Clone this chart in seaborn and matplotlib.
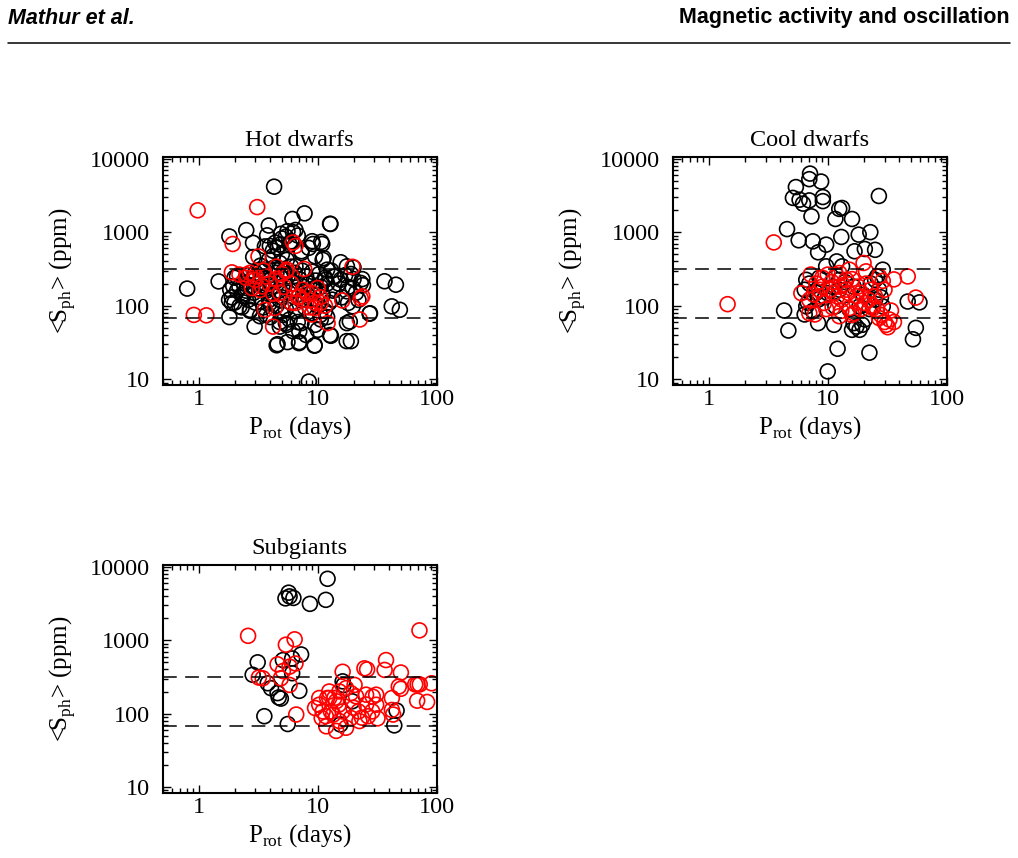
import numpy as np
import pandas as pd
import matplotlib
matplotlib.use("Agg")
import matplotlib.pyplot as plt
import matplotlib.ticker as mticker
import seaborn as sns

# ---- data: (P_rot [days], <S_ph> [ppm]) ----
# Hot dwarfs, black circles
hot_black_P = [0.80, 4.3, 7.75, 12.7, 1.81, 2.51, 3.88, 2.86, 6.13, 5.57, 8.98, 10.7, 8.42,
               36.4, 45.4, 41.9, 49, 27.3, 19, 12.7, 9.44, 6.96, 5.57, 4.52, 4.6, 8.42, 1.81,
               2.95, 1.47, 18, 18.6, 3.76, 2.87, 1.84, 1.8, 1.9, 2.2, 2.1, 2.37, 2.53, 2.7,
               3.27, 3.96, 4.8, 5.4, 4.8, 4.2, 4.8, 5.4, 3.96, 3.27, 4.35, 12.8, 9.1, 10.9,
               11.2, 15.6, 17.6, 12, 13.6, 15.6, 23.7, 23, 19.7, 17.6, 13.2, 19.7, 17.6, 27.5,
               17.5, 12.9, 9.4, 7.0, 10, 10.6, 9, 7.3, 7.7, 9.4, 11.6, 6.5, 7.3, 6.5,
               2.2, 2.3, 2.4, 2.5, 2.6, 2.6, 2.7, 2.8, 2.9, 3.0, 3.0, 3.1, 3.2, 3.3, 3.3, 3.4,
               3.5, 3.5, 3.6, 3.7, 3.8, 3.9, 3.9, 4.0, 4.1, 4.2, 4.2, 4.3, 4.4, 4.5, 4.5, 4.6,
               4.7, 4.8, 4.9, 5.0, 5.0, 5.1, 5.2, 5.3, 5.4, 5.5, 5.6, 5.7, 5.8, 6.0, 6.0, 6.2,
               6.4, 6.5, 6.6, 6.8, 7.0, 7.2, 7.4, 7.6, 7.8, 8.0, 8.2, 8.5, 8.8, 9.0, 9.3, 9.6,
               10.0, 10.3, 10.6, 11.0, 11.5, 12.0, 12.5, 13.0, 13.5, 14.0, 15.0, 16, 17, 18,
               20, 21, 22, 24, 20, 19, 1.9, 2.0, 2.0, 2.1, 1.95, 2.3, 2.7, 3.7, 4.0, 4.8, 5.5,
               6.2, 7.0, 8.0, 9.5, 10.5, 11.5, 12, 6, 5, 6.8, 4.4, 3.6, 5.8, 7.3, 9.5, 11, 4.9, 6.2]
hot_black_S = [171, 4150, 1800, 1300, 873, 1065, 1230, 716, 1510, 1030, 753, 738, 611,
               215, 193, 98, 88, 78, 33, 40, 29, 31, 32, 29, 30, 9.3, 70,
               52, 214, 109, 61, 905, 459, 165, 120, 109, 98, 250, 134, 174, 88,
               72, 109, 120, 58, 52, 470, 676, 870, 650, 309, 309, 1290, 690, 690,
               445, 390, 343, 309, 250, 225, 230, 204, 174, 157, 121, 98, 58, 79,
               33, 39, 28.6, 32, 47, 65, 79, 58, 120, 174, 225, 343, 522, 1070,
               180, 140, 200, 160, 120, 260, 190, 230, 150, 110, 280, 200, 170, 130, 350, 240,
               190, 95, 300, 160, 220, 120, 420, 260, 180, 140, 560, 330, 210, 100, 280, 620,
               160, 380, 240, 130, 500, 75, 300, 190, 90, 420, 250, 150, 65, 340, 110, 200,
               280, 85, 160, 60, 230, 120, 300, 180, 95, 250, 140, 200, 120, 290, 160, 220,
               100, 270, 180, 140, 240, 200, 110, 300, 160, 250, 200, 130, 260, 180,
               230, 150, 120, 190, 330, 270, 130, 110, 240, 160, 185, 95, 85, 75, 70, 60, 55,
               45, 45, 40, 55, 75, 85, 70, 750, 820, 900, 720, 640, 680, 550, 470, 420, 950, 1000]
# Hot dwarfs, red circles
hot_red_P = [0.98, 3.1, 1.93, 3.18, 1.9, 0.91, 1.16, 4.22, 3.6, 4.35, 6.2, 2.53, 2.97, 3.7,
             4.5, 5.4, 3.27, 4.2, 2.8, 3.4, 2.2, 6.5, 7.7, 19.6, 10, 9, 10.6, 9.4, 8.9,
             12.1, 16.1, 23, 23.7, 22.6, 7, 6.5, 7.5,
             3.0, 3.5, 3.9, 4.5, 5.0, 5.5, 6.0, 4.8, 6.8, 7.5, 8.2, 9.5, 10.5, 11.5, 8.5,
             6.0, 5.2, 2.5, 2.7]
hot_red_S = [1980, 2190, 690, 468, 284, 75, 74, 52, 88, 93, 725, 265, 224, 250,
             340, 294, 164, 148, 174, 183, 265, 650, 316, 338, 174, 148, 109, 93, 76,
             58, 118, 126, 134, 65, 134, 109, 165,
             250, 300, 200, 230, 270, 310, 200, 150, 130, 120, 150, 110, 130, 100, 95,
             110, 180, 240, 280]

# Cool dwarfs, black circles
cool_black_P = [7.1, 7.0, 8.8, 5.4, 5.1, 5.8, 6.2, 7.0, 9.1, 9.1, 26.9, 12.5, 13.2, 11.6,
                16, 7.3, 4.55, 5.7, 7.5, 9.7, 8.3, 13.0, 18.2, 22.8, 16.8, 20.5, 25, 11.9,
                6.6, 6.4, 6.4, 6.6, 8.3, 10, 12.5, 16.5, 17.4, 18.5, 16, 19.5, 20.5, 29,
                25, 27, 4.3, 4.67, 12.1, 22.4, 10.0, 47, 59, 55, 52, 11.3, 8.3,
                7.0, 8.5, 11.6, 15.2, 18.5, 22.4, 25, 29, 12.5, 16.5, 9.7, 13.2,
                8.0, 9.5, 11, 14, 20, 23, 26, 28, 6.8, 7.5]
cool_black_S = [6250, 5250, 4870, 4100, 2920, 2760, 2440, 2700, 3000, 2640, 3100, 2070, 2130, 1510,
                1510, 1640, 1100, 775, 750, 676, 532, 860, 925, 1000, 550, 590, 575, 400,
                225, 165, 76, 98, 121, 148, 225, 58, 52, 47, 47, 55, 65, 309,
                225, 165, 86, 46, 26, 23, 12.8, 114, 111, 50, 35, 55, 58,
                200, 240, 98, 90, 98, 90, 121, 98, 165, 182, 343, 343,
                150, 130, 180, 210, 140, 200, 250, 130, 110, 85]
# Cool dwarfs, red circles
cool_red_P = [1.44, 3.52, 47, 55, 36, 29, 34, 33, 32, 36, 27, 24, 20, 21, 7.2, 6.0, 7.0,
              7.8, 12.5, 16.5, 9.3, 11.3, 12.5, 14.3, 15.2, 10, 9, 12, 13.1, 17.4, 20.5,
              25, 23, 10.5, 8.6, 12.5, 18, 27, 30, 9.7, 15.2, 19, 7.6, 14.3,
              8.0, 9.0, 10.8, 11.8, 13.5, 14.8, 16, 17.5, 19, 21, 22, 24, 26, 28, 30, 31,
              11, 13, 16, 7.0, 8.5]
cool_red_S = [105, 725, 250, 129, 228, 218, 86, 65, 51, 60, 68, 93, 381, 293, 265, 148, 79,
              76, 72, 79, 109, 148, 182, 225, 309, 265, 182, 134, 121, 134, 109,
              134, 165, 165, 134, 278, 182, 250, 165, 90, 93, 90, 142, 165,
              200, 240, 210, 260, 190, 150, 230, 110, 150, 200, 120, 100, 90, 75, 60, 55,
              95, 85, 75, 120, 165]

# Subgiants, black circles
sub_black_P = [12.1, 5.7, 5.8, 5.36, 6.25, 8.6, 11.7, 3.13, 2.84, 3.8, 4.05, 4.6, 4.7, 4.9,
               5.1, 6.1, 7.25, 6.1, 7.0, 3.56, 5.6, 16.2, 44, 46, 15.5, 19.5, 16.5]
sub_black_S = [6900, 4460, 3970, 3730, 3780, 3140, 3560, 500, 338, 259, 222, 190, 166, 160,
               537, 565, 640, 355, 204, 92, 72, 275, 69, 110, 71, 147, 245]
# Subgiants, red circles
sub_red_P = [2.6, 5.4, 6.4, 6.5, 5.8, 4.6, 5.1, 4.9, 5.8, 3.45, 3.2, 6.6, 71.6, 37.5, 36.5,
             24.7, 26, 16.2, 50, 48, 50, 66, 69, 72, 90.7, 68.5, 83, 42, 31, 29, 25.5,
             31.8, 43, 22.4, 23.5, 17.3, 14.3, 11.8, 9.5, 10.3, 11, 11.7, 12.5, 13.8, 12.5,
             15.2, 17.3, 19, 21, 20, 22, 25.5, 15, 16.2, 13.5, 10.8, 12, 15.2, 19, 26.5,
             28.7, 31, 42, 12.9, 14.3, 10.3, 20.4]
sub_red_S = [1150, 870, 1030, 482, 437, 470, 380, 303, 246, 303, 310, 97, 1365, 537, 394,
             414, 400, 372, 363, 234, 218, 250, 250, 250, 259, 150, 144, 163, 181, 170, 133,
             86, 97, 79, 88, 64, 58, 67, 119, 132, 107, 92, 200, 163, 163,
             200, 222, 190, 172, 120, 107, 181, 132, 107, 97, 87, 163, 79, 87, 92,
             107, 132, 112, 107, 147, 163, 246]

panels = [
    ("Hot dwarfs", hot_black_P, hot_black_S, hot_red_P, hot_red_S, [0.160, 0.551, 0.269, 0.266]),
    ("Cool dwarfs", cool_black_P, cool_black_S, cool_red_P, cool_red_S, [0.661, 0.551, 0.269, 0.266]),
    ("Subgiants", sub_black_P, sub_black_S, sub_red_P, sub_red_S, [0.160, 0.076, 0.269, 0.265]),
]
levels = [316, 68]

sns.set_style("ticks")
plt.rcParams['font.family'] = ['Liberation Serif', 'DejaVu Serif']
plt.rcParams['mathtext.fontset'] = 'custom'
plt.rcParams['mathtext.rm'] = 'Liberation Serif'
for key in ['text.color', 'axes.labelcolor', 'xtick.color', 'ytick.color', 'axes.edgecolor']:
    plt.rcParams[key] = 'black'

fig = plt.figure(figsize=(10.18, 8.58), dpi=100)

# page header
fig.text(8 / 1018, 1 - 23.5 / 858, "Mathur et al.", ha='left', va='baseline',
         fontsize=15.5, fontweight='bold', fontstyle='italic', family='Liberation Sans')
fig.text(1010 / 1018, 1 - 23.5 / 858, "Magnetic activity and oscillation", ha='right',
         va='baseline', fontsize=15.5, fontweight='bold', family='Liberation Sans')
fig.add_artist(plt.Line2D([8 / 1018, 1010 / 1018], [1 - 43 / 858, 1 - 43 / 858],
                          transform=fig.transFigure, color='black', lw=1.1))

for title, bP, bS, rP, rS, pos in panels:
    ax = fig.add_axes(pos)
    black_df = pd.DataFrame({'P': bP, 'S': bS})
    red_df = pd.DataFrame({'P': rP, 'S': rS})
    sns.scatterplot(data=black_df, x='P', y='S', ax=ax, s=115, color='none',
                    edgecolor='black', linewidth=1.2)
    sns.scatterplot(data=red_df, x='P', y='S', ax=ax, s=115, color='none',
                    edgecolor='red', linewidth=1.2)
    for lev in levels:
        ax.axhline(lev, color='black', lw=1.1, dashes=(9, 5.5))

    ax.set_xscale('log')
    ax.set_yscale('log')
    ax.set_xlim(0.5, 100)
    ax.set_ylim(8.3, 10500)
    ax.set_xticks([1, 10, 100])
    ax.set_yticks([10, 100, 1000, 10000])
    fmt = mticker.FuncFormatter(lambda v, _: f"{v:g}")
    ax.xaxis.set_major_formatter(fmt)
    ax.yaxis.set_major_formatter(fmt)
    ax.xaxis.set_minor_locator(mticker.LogLocator(base=10, subs=np.arange(2, 10), numticks=20))
    ax.yaxis.set_minor_locator(mticker.LogLocator(base=10, subs=np.arange(2, 10), numticks=20))
    ax.xaxis.set_minor_formatter(mticker.NullFormatter())
    ax.yaxis.set_minor_formatter(mticker.NullFormatter())

    ax.tick_params(which='both', direction='in', top=True, right=True, width=1.0, colors='black')
    ax.tick_params(which='major', length=6)
    ax.tick_params(which='minor', length=3.5)
    ax.tick_params(axis='x', which='major', labelsize=17.5, pad=3)
    ax.tick_params(axis='y', which='major', labelsize=17.5, pad=9)
    for sp in ax.spines.values():
        sp.set_linewidth(1.5)
        sp.set_color('black')

    ax.set_title(title, fontsize=17.5, pad=8)
    ax.set_xlabel(r"P$_\mathregular{rot}$ (days)", fontsize=18, labelpad=3)
    ax.set_ylabel(r"<S$_\mathregular{ph}$> (ppm)", fontsize=18, labelpad=9)

plt.savefig("out.png", dpi=100)
